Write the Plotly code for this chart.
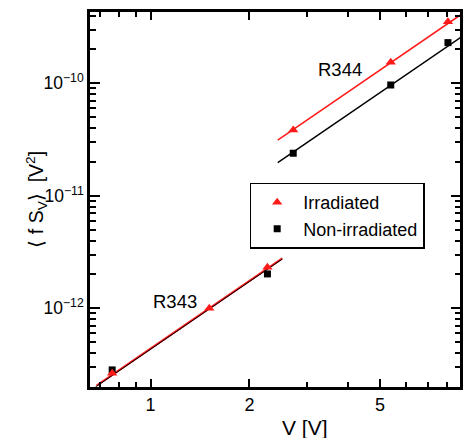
import plotly.graph_objects as go

# Data
irr_v = [0.764, 1.51, 2.27, 2.72, 5.39, 8.05]
irr_s = [2.64e-13, 1.00e-12, 2.31e-12, 3.85e-11, 1.54e-10, 3.53e-10]
non_v = [0.764, 2.27, 2.72, 5.39, 8.05]
non_s = [2.83e-13, 2.02e-12, 2.39e-11, 9.66e-11, 2.30e-10]

# Fit lines (endpoints)
fit343_irr_v = [0.685, 2.52]
fit343_irr_s = [2.05e-13, 2.78e-12]
fit343_non_v = [0.68, 2.52]
fit343_non_s = [2.00e-13, 2.74e-12]
fit344_irr_v = [2.44, 8.9]
fit344_irr_s = [3.13e-11, 4.16e-10]
fit344_non_v = [2.44, 8.9]
fit344_non_s = [1.97e-11, 2.62e-10]

x_tickvals = [1, 2, 5]
x_ticktext = ["1", "2", "5"]
x_minor = [0.7, 0.8, 0.9, 3, 4, 6, 7, 8]
y_tickvals = [1e-12, 1e-11, 1e-10]
y_ticktext = ["10<sup>\u221212</sup>", "10<sup>\u221211</sup>", "10<sup>\u221210</sup>"]
y_minor = [m * 10.0 ** e for e in (-13, -12, -11, -10) for m in range(2, 10)]

FONT = "Arial, Liberation Sans, sans-serif"
RED = "#ff1a1a"
XR = [-0.1844, 0.9425]
YR = [-12.70, -9.366]

fig = go.Figure()
fig.add_trace(go.Scatter(x=fit343_irr_v, y=fit343_irr_s, mode="lines",
                         line=dict(color=RED, width=2.2), showlegend=False))
fig.add_trace(go.Scatter(x=fit343_non_v, y=fit343_non_s, mode="lines",
                         line=dict(color="black", width=1), showlegend=False))
fig.add_trace(go.Scatter(x=fit344_irr_v, y=fit344_irr_s, mode="lines",
                         line=dict(color=RED, width=1.5), showlegend=False))
fig.add_trace(go.Scatter(x=fit344_non_v, y=fit344_non_s, mode="lines",
                         line=dict(color="black", width=1.5), showlegend=False))
fig.add_trace(go.Scatter(x=non_v, y=non_s, mode="markers", name="Non-irradiated",
                         marker=dict(symbol="square", size=7, color="black")))
fig.add_trace(go.Scatter(x=irr_v, y=irr_s, mode="markers", name="Irradiated",
                         marker=dict(symbol="triangle-up", size=9, color=RED)))
# invisible trace to activate mirrored tick axes (top / right)
fig.add_trace(go.Scatter(x=[1], y=[1e-11], xaxis="x2", yaxis="y2", mode="markers",
                         marker=dict(opacity=0), showlegend=False, hoverinfo="skip"))

def minor(vals, ln):
    return dict(tickmode="array", tickvals=vals, ticks="inside", ticklen=ln,
                tickwidth=2, tickcolor="black", showgrid=False)

base = dict(type="log", showgrid=False, zeroline=False, ticks="inside",
            tickcolor="black", tickwidth=2)

fig.update_layout(
    xaxis=dict(**base, range=XR, tickmode="array", showline=True, mirror=True,
               linecolor="black", linewidth=2.5,
               tickvals=x_tickvals, ticktext=x_ticktext, ticklen=8,
               minor=minor(x_minor, 5),
               tickfont=dict(family=FONT, size=18, color="black")),
    yaxis=dict(**base, range=YR, tickmode="array", showline=True, mirror=True,
               linecolor="black", linewidth=2.5,
               tickvals=y_tickvals, ticktext=y_ticktext, ticklen=10,
               minor=minor(y_minor, 6),
               tickfont=dict(family=FONT, size=17.5, color="black")),
    xaxis2=dict(**base, range=XR, tickmode="array", overlaying="x", side="top",
                anchor="y2", tickvals=x_tickvals, ticklen=8, minor=minor(x_minor, 5),
                showticklabels=False, showline=False),
    yaxis2=dict(**base, range=YR, tickmode="array", overlaying="y", side="right",
                anchor="x2", tickvals=y_tickvals, ticklen=9, minor=minor(y_minor, 5),
                showticklabels=False, showline=False),
)

fig.update_layout(
    width=464, height=438,
    margin=dict(l=90, r=1, t=12, b=51),
    plot_bgcolor="white", paper_bgcolor="white",
    font=dict(family=FONT, size=18, color="black"),
    legend=dict(x=0.4316, y=0.545, xanchor="left", yanchor="top",
                bordercolor="black", borderwidth=1.5, bgcolor="white",
                itemwidth=42, traceorder="reversed", font=dict(size=18)),
    annotations=[
        dict(text="V [V]", x=0.582, y=-0.107, xref="paper", yref="paper",
             showarrow=False, font=dict(size=21), yanchor="middle"),
        dict(text="\u27e8 f S<sub>V</sub>\u27e9  [V<sup>2</sup>]", x=-0.1877, y=0.5,
             xref="paper", yref="paper", showarrow=False, textangle=-90,
             font=dict(size=19.5)),
        dict(text="R344", x=0.576, y=-9.873, xref="x", yref="y", showarrow=False,
             font=dict(size=18.5)),
        dict(text="R343", x=0.0755, y=-11.94, xref="x", yref="y", showarrow=False,
             font=dict(size=18.5)),
    ],
)

fig.write_html("out.html")
